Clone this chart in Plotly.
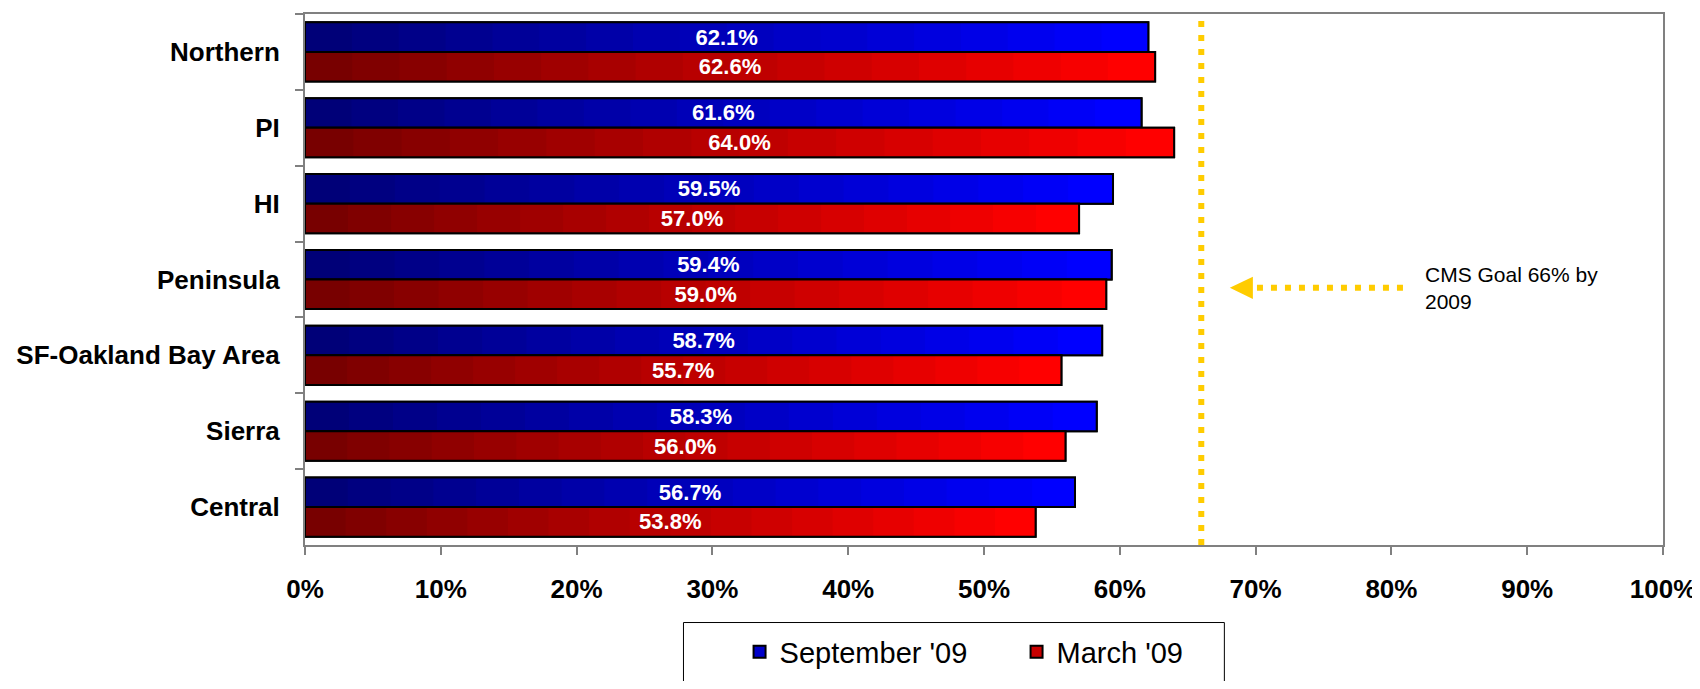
import plotly.graph_objects as go

# ---------------- data ----------------
categories = ["Northern", "PI", "HI", "Peninsula", "SF-Oakland Bay Area", "Sierra", "Central"]
sep_09 = [62.1, 61.6, 59.5, 59.4, 58.7, 58.3, 56.7]
mar_09 = [62.6, 64.0, 57.0, 59.0, 55.7, 56.0, 53.8]
series_names = ["September '09", "March '09"]
x_tick_vals = [0, 10, 20, 30, 40, 50, 60, 70, 80, 90, 100]
x_tick_text = ["0%", "10%", "20%", "30%", "40%", "50%", "60%", "70%", "80%", "90%", "100%"]
goal_value = 66
goal_text = "CMS Goal 66% by<br>2009"

# ---------------- style ----------------
FONT = "Liberation Sans, Arial, sans-serif"
GOLD = "#FFCC00"
BAR_W = 0.39
STEPS = 18
series_style = [
    dict(dark=(0, 0, 120), bright=(0, 0, 255), offset=-BAR_W),
    dict(dark=(120, 0, 0), bright=(255, 0, 0), offset=0.0),
]


def mix(c0, c1, t):
    return "rgb(%d,%d,%d)" % tuple(round(a + (b - a) * t) for a, b in zip(c0, c1))


fig = go.Figure()
for name, vals, st in zip(series_names, [sep_09, mar_09], series_style):
    # full bar (legend entry)
    fig.add_trace(go.Bar(
        y=categories, x=vals, orientation="h", name=name, legendgroup=name,
        width=BAR_W, offset=st["offset"],
        marker=dict(color=mix(st["dark"], st["bright"], 0.6), line=dict(color="black", width=2)),
        hoverinfo="skip",
    ))
    # gradient overlays (dark at left, bright at right end of each bar)
    for j in range(STEPS, 0, -1):
        frac = j / STEPS
        t = (j - 1) / (STEPS - 1)
        fig.add_trace(go.Bar(
            y=categories, x=[v * frac for v in vals], orientation="h",
            legendgroup=name, showlegend=False, width=BAR_W, offset=st["offset"],
            marker=dict(color=mix(st["dark"], st["bright"], t), line=dict(width=0)),
            hoverinfo="skip",
        ))
    # outline + labels
    fig.add_trace(go.Bar(
        y=categories, x=vals, orientation="h", legendgroup=name, showlegend=False,
        width=BAR_W, offset=st["offset"],
        marker=dict(color="rgba(0,0,0,0)", line=dict(color="black", width=2)),
        text=[f"{v:.1f}%" for v in vals], textposition="inside",
        insidetextanchor="middle", constraintext="none", textangle=0,
        textfont=dict(family=FONT, size=22, color="white", weight="bold"),
        hovertemplate="%{y}: %{x:.1f}%<extra>" + name + "</extra>",
    ))

# goal line
fig.add_shape(type="line", xref="x", yref="paper", x0=goal_value, x1=goal_value, y0=0, y1=1,
              line=dict(color=GOLD, width=6, dash="6px,8px"))
# dotted arrow shaft
fig.add_shape(type="line", xref="x", yref="paper", x0=70.1, x1=81.1, y0=0.4843, y1=0.4843,
              line=dict(color=GOLD, width=6, dash="6px,8px"))
# arrow head
fig.add_shape(type="path", xref="x", yref="paper",
              path="M 68.1,0.4843 L 69.8,0.5053 L 69.8,0.4633 Z",
              fillcolor=GOLD, line=dict(color=GOLD, width=0))
fig.add_annotation(x=82.35, xref="x", y=0.484, yref="paper", text=goal_text, showarrow=False,
                   xanchor="left", yanchor="middle", align="left",
                   font=dict(family=FONT, size=21, color="black"))

# legend frame
fig.add_shape(type="rect", xref="paper", yref="paper", x0=0.2787, x1=0.677, y0=-0.146, y1=-0.30,
              line=dict(color="black", width=1), fillcolor="white", layer="below")

fig.update_layout(
    width=1692, height=673,
    margin=dict(l=297, r=35, t=4, b=128),
    barmode="overlay",
    paper_bgcolor="white", plot_bgcolor="white",
    font=dict(family=FONT, color="black"),
    showlegend=True,
    legend=dict(orientation="h", x=0.320, xanchor="left", y=-0.2015, yanchor="middle",
                font=dict(family=FONT, size=29, color="black"), bgcolor="rgba(0,0,0,0)",
                borderwidth=0, entrywidth=232, traceorder="normal"),
    xaxis=dict(range=[0, 100], tickvals=x_tick_vals, ticktext=x_tick_text,
               ticks="outside", ticklen=8, tickcolor="#808080", tickwidth=2,
               showline=True, linecolor="#808080", linewidth=2, mirror=True,
               showgrid=False, zeroline=False, fixedrange=True,
               ticklabeloverflow="allow",
               tickfont=dict(family=FONT, size=26, color="black", weight="bold"),
               ticklabelstandoff=12),
    yaxis=dict(type="category", categoryorder="array", categoryarray=categories,
               range=[6.5, -0.5], tickson="boundaries",
               ticks="outside", ticklen=8, tickcolor="#808080", tickwidth=2,
               showline=True, linecolor="#808080", linewidth=2, mirror=True,
               showgrid=False, zeroline=False, fixedrange=True,
               tickfont=dict(family=FONT, size=26, color="black", weight="bold"),
               ticklabelstandoff=18),
)

fig.write_html("out.html")
